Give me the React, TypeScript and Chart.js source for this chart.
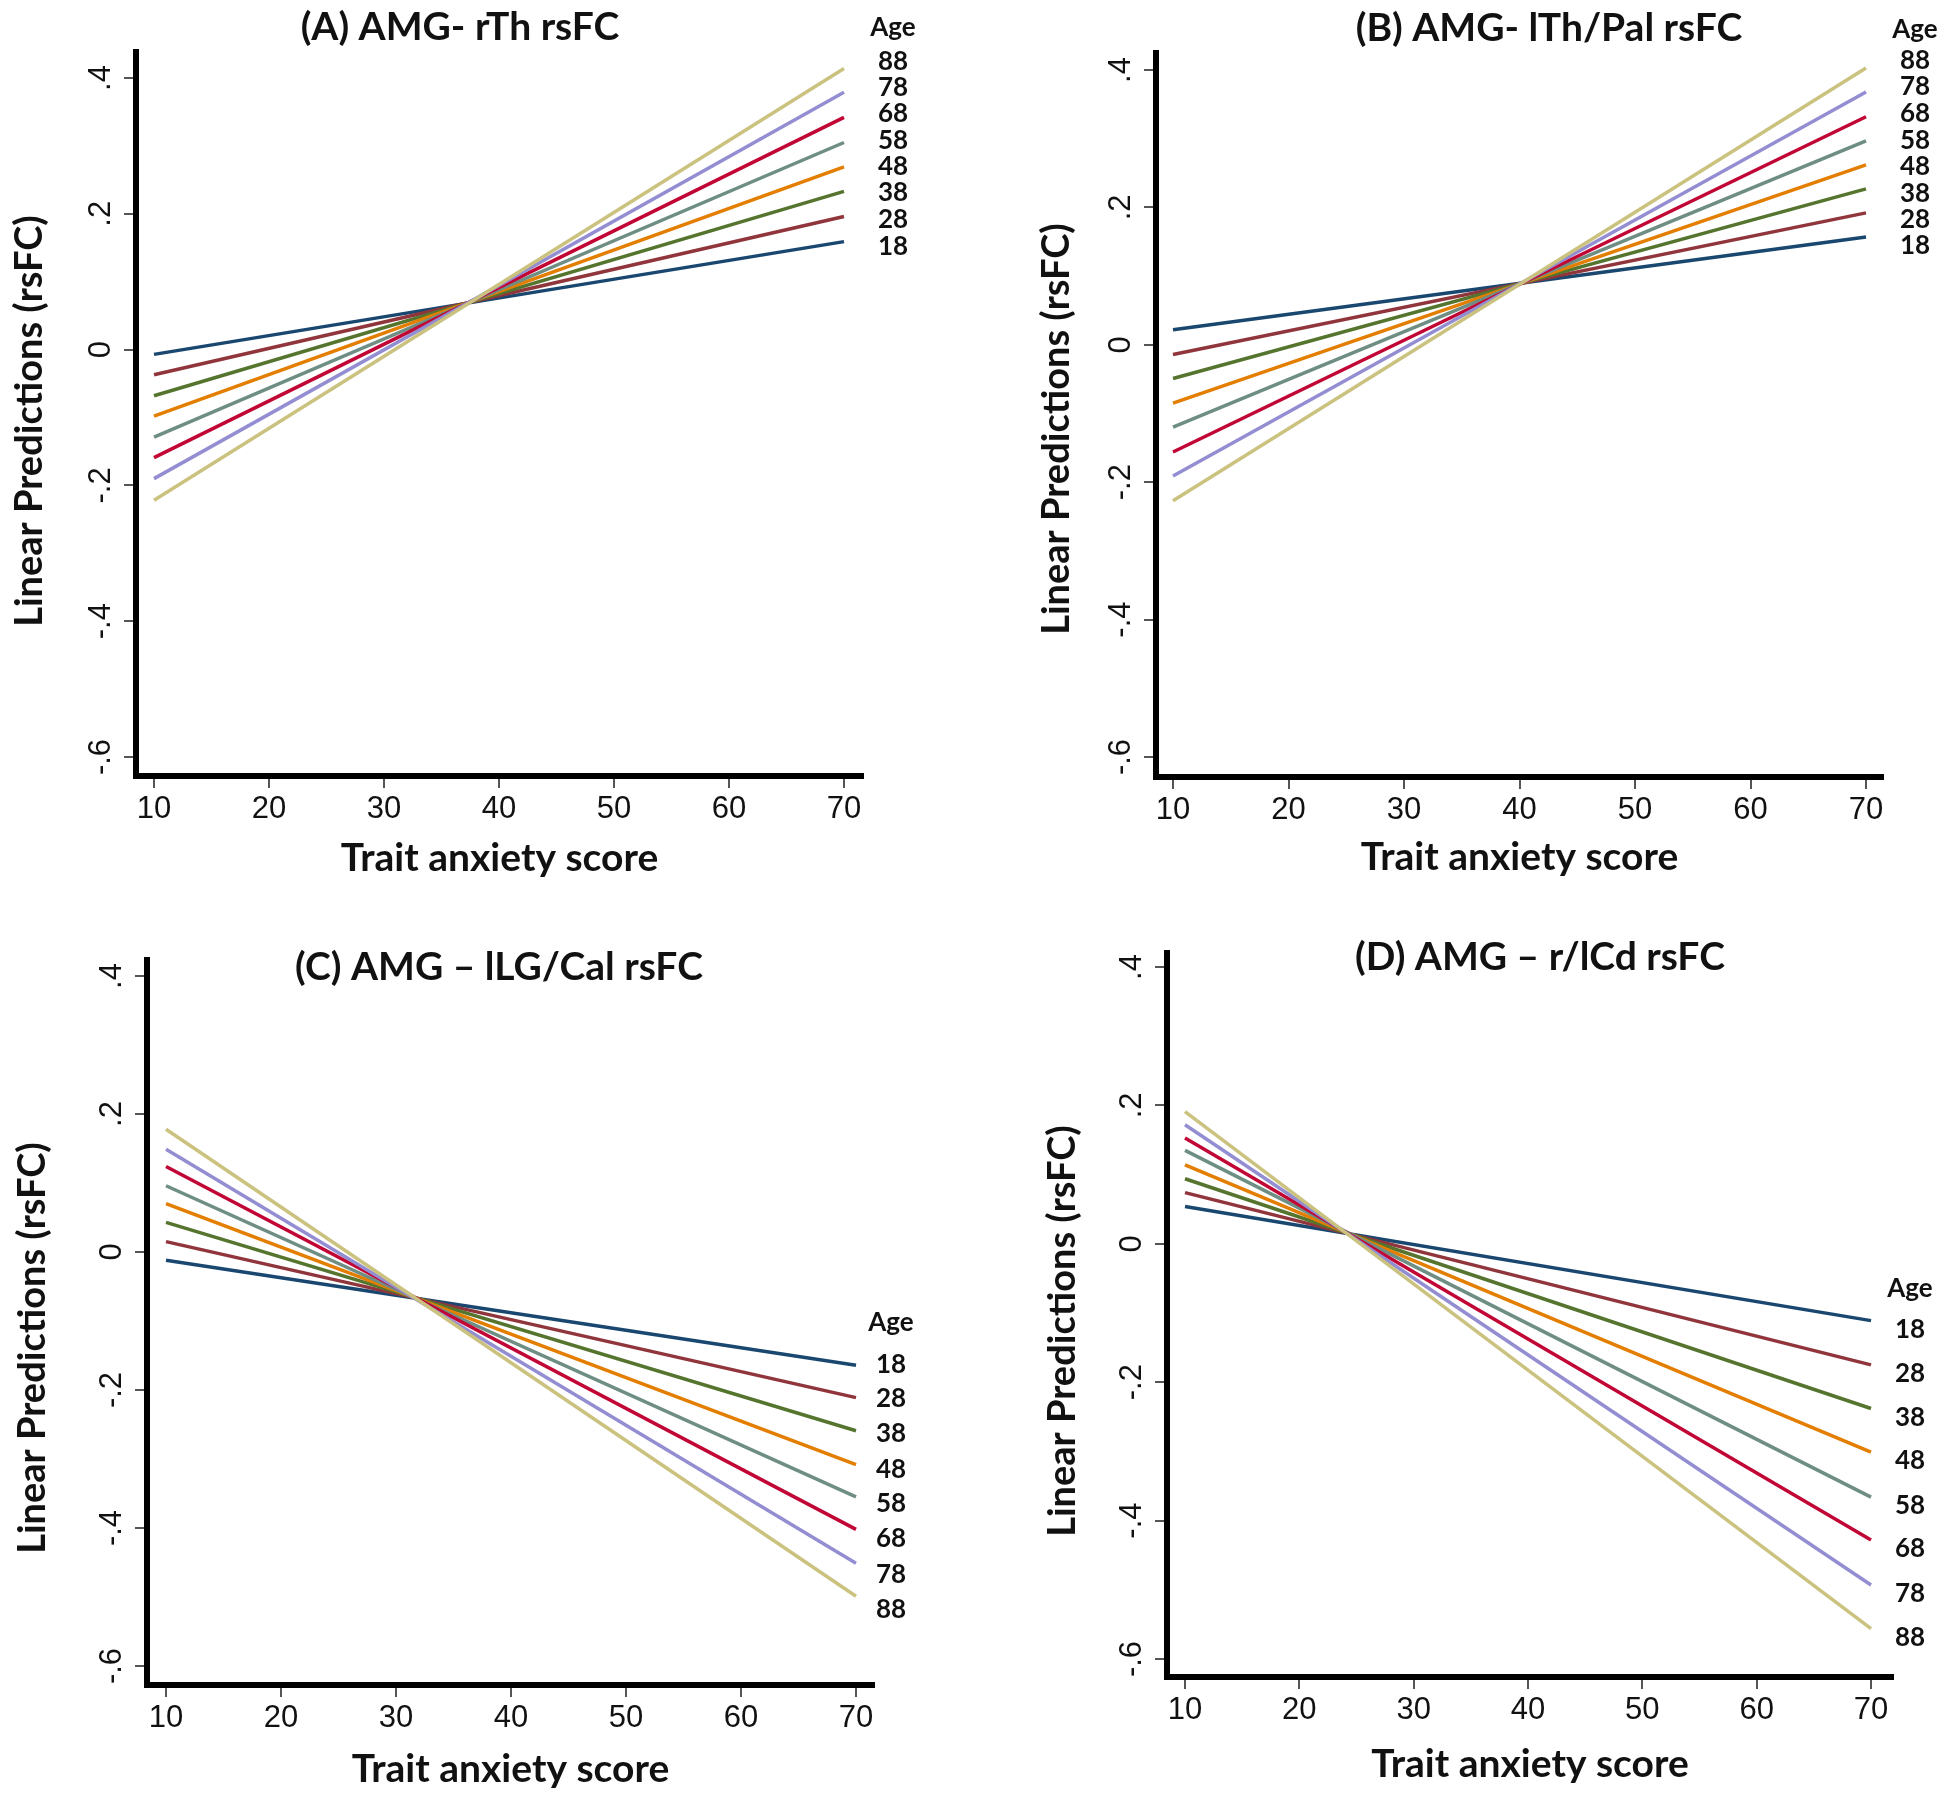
import React, { useEffect, useRef } from "react";
import { Chart, registerables } from "chart.js";

Chart.register(...registerables);

// ---------- data ----------
const ages = [18, 28, 38, 48, 58, 68, 78, 88];
const anxietyEnds = [10, 70];
const xTickValues = [10, 20, 30, 40, 50, 60, 70];
const yTickValues = [-0.6, -0.4, -0.2, 0, 0.2, 0.4];
const seriesColors = ["#1a476f", "#90353b", "#55752f", "#e37e00", "#6e8e84", "#c10534", "#938dd2", "#cac27e"];

const xAxisTitle = "Trait anxiety score";
const yAxisTitle = "Linear Predictions (rsFC)";
const legendTitle = "Age";

const titleA = "(A) AMG- rTh rsFC";
const aAt10 = [-0.007, -0.037, -0.068, -0.098, -0.129, -0.159, -0.19, -0.222];
const aAt70 = [0.159, 0.196, 0.233, 0.269, 0.305, 0.342, 0.379, 0.414];

const titleB = "(B) AMG- lTh/Pal rsFC";
const bAt10 = [0.022, -0.014, -0.049, -0.085, -0.12, -0.156, -0.191, -0.227];
const bAt70 = [0.157, 0.192, 0.227, 0.262, 0.297, 0.332, 0.368, 0.403];

const titleC = "(C) AMG \u2013 lLG/Cal rsFC";
const cAt10 = [-0.012, 0.015, 0.043, 0.07, 0.096, 0.124, 0.149, 0.178];
const cAt70 = [-0.164, -0.211, -0.259, -0.308, -0.355, -0.402, -0.451, -0.499];

const titleD = "(D) AMG \u2013 r/lCd rsFC";
const dAt10 = [0.054, 0.074, 0.094, 0.114, 0.135, 0.153, 0.172, 0.191];
const dAt70 = [-0.111, -0.175, -0.238, -0.301, -0.366, -0.428, -0.493, -0.556];

// ---------- layout / style (panel-local pixels) ----------
const PANEL_W = 975;
const PANEL_H = 900;
const BOLD_FONT = "Lato";
const TICK_FONT = "Liberation Sans";
const TITLE_SIZE = 39;
const X_TITLE_SIZE = 39;
const Y_TITLE_SIZE = 38;
const AGE_SIZE = 26;
const TICK_SIZE = 31;

type PanelCfg = {
  title: string; at10: number[]; at70: number[];
  ox: number; oy: number;
  chartLeft: number; chartTop: number; chartRight: number; chartBottom: number;
  yPxTop: number; yPxBottom: number; xPxFirst: number; xPxLast: number;
  titleX: number; titleY: number;
  yTitleX: number; yTitleY: number; xTitleY: number;
  labelX: number; labelSpread: number; labelShift: number; ageGap: number;
};

const panels: PanelCfg[] = [
  { title: titleA, at10: aAt10, at70: aAt70, ox: 0, oy: 0,
    chartLeft: 136, chartTop: 52, chartRight: 863, chartBottom: 776,
    yPxTop: 78, yPxBottom: 757, xPxFirst: 154, xPxLast: 844,
    titleX: 460, titleY: 27, yTitleX: 30, yTitleY: 421, xTitleY: 858,
    labelX: 893, labelSpread: 1.065, labelShift: -1, ageGap: 34 },
  { title: titleB, at10: bAt10, at70: bAt70, ox: 975, oy: 0,
    chartLeft: 181, chartTop: 53, chartRight: 908, chartBottom: 777,
    yPxTop: 70, yPxBottom: 757, xPxFirst: 198, xPxLast: 891,
    titleX: 574, titleY: 28, yTitleX: 82, yTitleY: 429, xTitleY: 857,
    labelX: 940, labelSpread: 1.1, labelShift: 0.7, ageGap: 31 },
  { title: titleC, at10: cAt10, at70: cAt70, ox: 0, oy: 900,
    chartLeft: 147, chartTop: 60, chartRight: 874, chartBottom: 785,
    yPxTop: 76, yPxBottom: 766, xPxFirst: 166, xPxLast: 856,
    titleX: 499, titleY: 67, yTitleX: 33, yTitleY: 448, xTitleY: 869,
    labelX: 891, labelSpread: 1.06, labelShift: 6, ageGap: 42 },
  { title: titleD, at10: dAt10, at70: dAt70, ox: 975, oy: 900,
    chartLeft: 192, chartTop: 53, chartRight: 918, chartBottom: 777,
    yPxTop: 67, yPxBottom: 759, xPxFirst: 210, xPxLast: 896,
    titleX: 565, titleY: 57, yTitleX: 88, yTitleY: 431, xTitleY: 864,
    labelX: 935, labelSpread: 1.0, labelShift: 9, ageGap: 41 },
];

function fmtY(v: number): string {
  if (Math.abs(v) < 1e-9) return "0";
  const s = Math.abs(v).toFixed(1).replace(/^0/, "");
  return (v < 0 ? "-" : "") + s;
}

function makeTextPlugin(p: PanelCfg) {
  return {
    id: "panelText",
    afterDraw(chart: any) {
      const ctx: CanvasRenderingContext2D = chart.ctx;
      const area = chart.chartArea;
      const ys = chart.scales.y;
      ctx.save();
      ctx.fillStyle = "#111";

      // y tick labels (rotated)
      ctx.font = `${TICK_SIZE}px "${TICK_FONT}"`;
      ctx.textAlign = "center";
      ctx.textBaseline = "alphabetic";
      yTickValues.forEach((v) => {
        const py = ys.getPixelForValue(v);
        ctx.save();
        ctx.translate(area.left - 26, py);
        ctx.rotate(-Math.PI / 2);
        ctx.fillText(fmtY(v), 0, 0);
        ctx.restore();
      });

      // y axis title
      ctx.font = `bold ${Y_TITLE_SIZE}px "${BOLD_FONT}"`;
      ctx.textBaseline = "middle";
      ctx.save();
      ctx.translate(p.yTitleX, p.yTitleY);
      ctx.rotate(-Math.PI / 2);
      ctx.fillText(yAxisTitle, 0, 0);
      ctx.restore();

      // panel title
      ctx.font = `bold ${TITLE_SIZE}px "${BOLD_FONT}"`;
      ctx.fillText(p.title, p.titleX, p.titleY);

      // age labels at line ends
      const ends = p.at70.map((v) => ys.getPixelForValue(v));
      const mean = ends.reduce((a, b) => a + b, 0) / ends.length;
      const labelYs = ends.map((e) => mean + (e - mean) * p.labelSpread + p.labelShift);
      ctx.font = `bold ${AGE_SIZE}px "${BOLD_FONT}"`;
      ages.forEach((age, i) => ctx.fillText(String(age), p.labelX, labelYs[i]));
      const topY = Math.min(...labelYs);
      ctx.fillText(legendTitle, p.labelX, topY - p.ageGap);
      ctx.restore();
    },
  };
}

function buildConfig(p: PanelCfg): any {
  const yPpu = (p.yPxBottom - p.yPxTop) / (yTickValues[yTickValues.length - 1] - yTickValues[0]);
  const yMin = yTickValues[0] - (p.chartBottom - p.yPxBottom) / yPpu;
  const yMax = yTickValues[yTickValues.length - 1] + (p.yPxTop - p.chartTop) / yPpu;
  const xPpu = (p.xPxLast - p.xPxFirst) / (xTickValues[xTickValues.length - 1] - xTickValues[0]);
  const xMin = xTickValues[0] - (p.xPxFirst - p.chartLeft) / xPpu;
  const xMax = xTickValues[xTickValues.length - 1] + (p.chartRight - p.xPxLast) / xPpu;
  const xTitlePad = PANEL_H - p.xTitleY - (X_TITLE_SIZE * 1.2) / 2;

  return {
    type: "scatter",
    data: {
      datasets: ages.map((age, i) => ({
        label: String(age),
        data: anxietyEnds.map((x, k) => ({ x, y: k === 0 ? p.at10[i] : p.at70[i] })),
        borderColor: seriesColors[i],
        backgroundColor: seriesColors[i],
        borderWidth: 3.5,
        pointRadius: 0,
        showLine: true,
        fill: false,
        order: -i,
      })),
    },
    options: {
      responsive: false,
      animation: false,
      devicePixelRatio: 1,
      layout: { padding: { left: 0, top: p.chartTop, right: PANEL_W - p.chartRight, bottom: 0 } },
      plugins: { legend: { display: false }, tooltip: { enabled: false }, title: { display: false } },
      scales: {
        x: {
          type: "linear",
          min: xMin,
          max: xMax,
          afterBuildTicks: (s: any) => { s.ticks = xTickValues.map((value) => ({ value })); },
          afterFit: (s: any) => { s.height = PANEL_H - p.chartBottom; },
          grid: { drawOnChartArea: false, drawTicks: true, tickLength: 12, tickWidth: 2, tickColor: "#555", lineWidth: 2, color: "#555" },
          border: { display: true, color: "#000", width: 6 },
          ticks: { font: { family: TICK_FONT, size: TICK_SIZE }, color: "#111", padding: 3, maxRotation: 0, minRotation: 0, autoSkip: false, callback: (v: any) => String(v) },
          title: { display: true, text: xAxisTitle, color: "#111", font: { family: BOLD_FONT, size: X_TITLE_SIZE, weight: "bold" }, padding: { top: 0, bottom: xTitlePad } },
        },
        y: {
          type: "linear",
          min: yMin,
          max: yMax,
          afterBuildTicks: (s: any) => { s.ticks = yTickValues.map((value) => ({ value })); },
          afterFit: (s: any) => { s.width = p.chartLeft; },
          grid: { drawOnChartArea: false, drawTicks: true, tickLength: 12, tickWidth: 2, tickColor: "#555", lineWidth: 2, color: "#555" },
          border: { display: true, color: "#000", width: 6 },
          ticks: { display: false },
          title: { display: false },
        },
      },
    },
    plugins: [makeTextPlugin(p)],
  };
}

function Panel({ p }: { p: PanelCfg }) {
  const ref = useRef<HTMLCanvasElement>(null);
  useEffect(() => {
    if (!ref.current) return;
    const chart = new Chart(ref.current, buildConfig(p));
    return () => chart.destroy();
  }, [p]);
  return (
    <div style={{ position: "absolute", left: p.ox, top: p.oy, width: PANEL_W, height: PANEL_H }}>
      <canvas ref={ref} width={PANEL_W} height={PANEL_H} style={{ display: "block" }} />
    </div>
  );
}

export default function App() {
  return (
    <div style={{ position: "absolute", left: 0, top: 0, width: 1950, height: 1800, background: "#fff" }}>
      {panels.map((p, i) => <Panel key={i} p={p} />)}
    </div>
  );
}
